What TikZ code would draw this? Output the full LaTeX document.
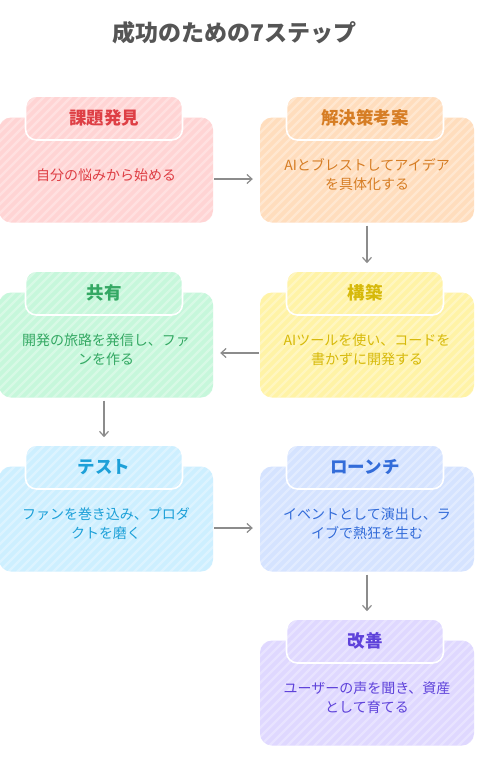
\documentclass[tikz,border=0pt]{standalone}
\usepackage{fontspec}
\setmainfont{Noto Sans CJK JP}
\usetikzlibrary{arrows.meta}
\definecolor{f1}{HTML}{FFD4D4}\definecolor{c1}{HTML}{DE3F45}
\definecolor{f2}{HTML}{FFDDBD}\definecolor{c2}{HTML}{D67D24}
\definecolor{f3}{HTML}{FFF3A6}\definecolor{c3}{HTML}{D6B90A}
\definecolor{f4}{HTML}{C6F7DB}\definecolor{c4}{HTML}{34A863}
\definecolor{f5}{HTML}{CDEFFF}\definecolor{c5}{HTML}{1DA0D8}
\definecolor{f6}{HTML}{D5E3FF}\definecolor{c6}{HTML}{336CD9}
\definecolor{f7}{HTML}{DFD8FF}\definecolor{c7}{HTML}{5E42DA}
\definecolor{arr}{HTML}{8C8C8C}
\definecolor{ttl}{HTML}{555555}
\tikzset{
 stripes/.style={path picture={\foreach \k in {-32,...,32}{\draw[white,opacity=0.3,line width=2.4pt] ([xshift=\k*9pt]path picture bounding box.center) ++(-130pt,-130pt) -- ++(260pt,260pt);}}},
 mainbox/.style={rounded corners=12pt, minimum width=214pt, minimum height=105pt, inner sep=0pt, draw=none, stripes},
 tabbox/.style={rounded corners=11pt, minimum width=157pt, minimum height=44pt, inner sep=0pt, draw=white, line width=1.6pt, stripes, font=\bfseries\fontsize{17.5}{20}\selectfont},
 bodytext/.style={align=center, inner sep=0pt, font=\fontsize{14}{19}\selectfont},
 flow/.style={draw=arr, line width=1.2pt, -{Straight Barb[length=5pt,width=9pt]}}
}
\newcommand\mkstep[7]{%
 \node[mainbox, fill=#4] (#1) at (#2,#3) {};
 \node[tabbox, fill=#4, text=#5] (#1t) at (#2-2,#3-52) {#6};
 \node[bodytext, text=#5] (#1b) at (#2,#3+5) {#7};
}
\begin{document}
\begin{tikzpicture}[x=1pt,y=-1pt]
\useasboundingbox (0,0) rectangle (482,758);
\fill[white] (0,0) rectangle (482,758);
\node[font=\bfseries\fontsize{23}{26}\selectfont, text=ttl] (title) at (234.5,33) {成功のための7ステップ};
\mkstep{s1}{106}{170}{f1}{c1}{課題発見}{自分の悩みから始める}
\mkstep{s2}{367}{170}{f2}{c2}{解決策考案}{AIとブレストしてアイデア\\を具体化する}
\mkstep{s3}{367}{345}{f3}{c3}{構築}{AIツールを使い、コードを\\書かずに開発する}
\mkstep{s4}{106}{345}{f4}{c4}{共有}{開発の旅路を発信し、ファ\\ンを作る}
\mkstep{s5}{106}{519}{f5}{c5}{テスト}{ファンを巻き込み、プロダ\\クトを磨く}
\mkstep{s6}{367}{519}{f6}{c6}{ローンチ}{イベントとして演出し、ラ\\イブで熱狂を生む}
\mkstep{s7}{367}{693}{f7}{c7}{改善}{ユーザーの声を聞き、資産\\として育てる}
\draw[flow, shorten <=1pt, shorten >=7pt] ([yshift=-9pt]s1.east) -- ([yshift=-9pt]s2.west);
\draw[flow, shorten <=3pt, shorten >=7pt] (s2.south) -- (s2.south |- s3t.north);
\draw[flow, shorten <=1pt, shorten >=7pt] ([yshift=-8pt]s3.west) -- ([yshift=-8pt]s4.east);
\draw[flow, shorten <=3pt, shorten >=7pt] ([xshift=-2pt]s4.south) -- ([xshift=-2pt]s4.south |- s5t.north);
\draw[flow, shorten <=1pt, shorten >=7pt] ([yshift=-9pt]s5.east) -- ([yshift=-9pt]s6.west);
\draw[flow, shorten <=3pt, shorten >=7pt] (s6.south) -- (s6.south |- s7t.north);
\end{tikzpicture}
\end{document}
